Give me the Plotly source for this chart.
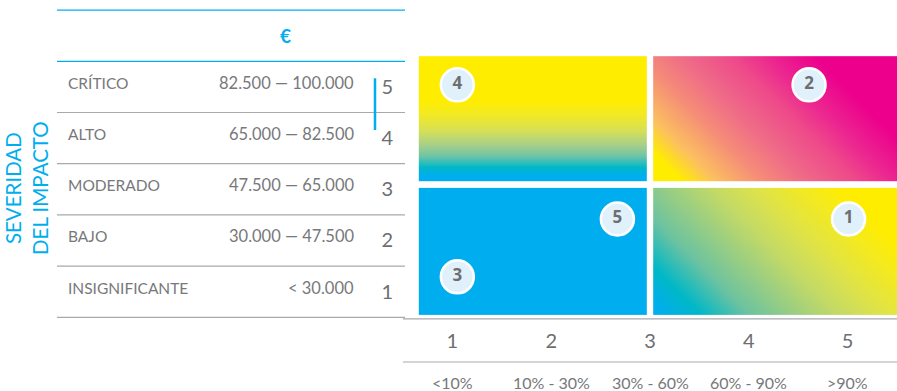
import numpy as np
import plotly.graph_objects as go

# ---------------- data ----------------
severity_levels = [5, 4, 3, 2, 1]
severity_labels = ["CRÍTICO", "ALTO", "MODERADO", "BAJO", "INSIGNIFICANTE"]
severity_ranges = ["82.500 — 100.000", "65.000 — 82.500", "47.500 — 65.000",
                   "30.000 — 47.500", "< 30.000"]
probability_levels = [1, 2, 3, 4, 5]
probability_labels = ["<10%", "10% - 30%", "30% - 60%", "60% - 90%", ">90%"]
risk_ids = ["1", "2", "3", "4", "5"]
risk_prob = [5.01, 4.61, 1.05, 1.05, 2.67]
risk_sev = [2.42, 5.04, 1.29, 5.04, 2.42]
quad_x_edges = [0.66, 3.0, 5.5]
quad_y_edges = [0.55, 3.09, 5.6]
currency_header = "€"
y_title = "SEVERIDAD<br>DEL IMPACTO"

# ---------------- style ----------------
W, H = 897, 391
BLUE = "#00aeef"
GREY_TXT = "#77787b"
GREY_NUM = "#6d6e71"
GREY_LINE = "#a7a9ac"
FONT = "Lato"
PX_X = 98.8   # pixels per x unit
PX_Y = 51.2   # pixels per y unit
GAP_X = 3.2 / PX_X
GAP_Y = 3.2 / PX_Y

cs_tl = [[0, "#00aeef"], [0.05, "#00aeef"], [0.12, "#00b8c8"], [0.2, "#6cc4a8"],
         [0.3, "#a8d088"], [0.4, "#d4df5a"], [0.55, "#f4ea20"], [0.65, "#ffed00"],
         [1, "#ffed00"]]
cs_tr = [[0, "#ffed00"], [0.08, "#ffed00"], [0.17, "#fcc060"], [0.3, "#f58c78"],
         [0.42, "#ef6a88"], [0.55, "#ee4a8a"], [0.65, "#ec2690"], [0.78, "#ec008c"],
         [1, "#ec008c"]]
cs_br = [[0, "#00aeef"], [0.05, "#00b0e6"], [0.13, "#00b8c8"], [0.26, "#6cc3a0"],
         [0.36, "#92cc88"], [0.5, "#c4da66"], [0.62, "#dfe348"], [0.75, "#f4ea20"],
         [0.85, "#ffed00"], [1, "#ffed00"]]
cs_bl = [[0, BLUE], [1, BLUE]]


def grad_heatmap(x0, x1, y0, y1, kind, colorscale):
    nx, ny = 80, 40
    xe = np.linspace(x0, x1, nx + 1)
    ye = np.linspace(y0, y1, ny + 1)
    xc = (xe[:-1] + xe[1:]) / 2
    yc = (ye[:-1] + ye[1:]) / 2
    X, Y = np.meshgrid(xc, yc)
    if kind == "vertical":
        Z = (Y - y0) / (y1 - y0)
    elif kind == "diag":
        Z = ((X - x0) * PX_X + (Y - y0) * PX_Y) / ((x1 - x0) * PX_X + (y1 - y0) * PX_Y)
    else:
        Z = np.zeros_like(X)
    return go.Heatmap(x=xe, y=ye, z=Z, colorscale=colorscale, zmin=0, zmax=1,
                      zsmooth="best", showscale=False, hoverinfo="skip")


xl0, xm, xr1 = quad_x_edges
yb0, ym, yt1 = quad_y_edges

fig = go.Figure()
fig.add_trace(grad_heatmap(xl0, xm - GAP_X, ym + GAP_Y, yt1, "vertical", cs_tl))
fig.add_trace(grad_heatmap(xm + GAP_X, xr1, ym + GAP_Y, yt1, "diag", cs_tr))
fig.add_trace(grad_heatmap(xl0, xm - GAP_X, yb0, ym - GAP_Y, "solid", cs_bl))
fig.add_trace(grad_heatmap(xm + GAP_X, xr1, yb0, ym - GAP_Y, "diag", cs_br))

fig.add_trace(go.Scatter(
    x=risk_prob, y=risk_sev, text=risk_ids, mode="markers+text",
    textposition="middle center",
    marker=dict(size=33, color="#e1f1fb", line=dict(color="white", width=2.5)),
    textfont=dict(family="Open Sans", size=17, color=GREY_NUM, weight="bold"),
    hoverinfo="skip", showlegend=False))

shapes = []
x_tab0, x_tab1 = 57 / W, 405 / W
for yv in [6.5, 5.5]:
    shapes.append(dict(type="line", xref="paper", yref="y", x0=x_tab0, x1=x_tab1,
                       y0=yv, y1=yv, line=dict(color=BLUE, width=1.2)))
for lvl in severity_levels:
    yv = lvl - 0.5
    shapes.append(dict(type="line", xref="paper", yref="y", x0=x_tab0, x1=x_tab1,
                       y0=yv, y1=yv, line=dict(color=GREY_LINE, width=1.2)))
shapes.append(dict(type="line", xref="x", yref="y", x0=0.5, x1=5.5, y0=0.47, y1=0.47,
                   line=dict(color=GREY_LINE, width=1.2)))
shapes.append(dict(type="line", xref="x", yref="paper", x0=0.5, x1=5.5,
                   y0=(H - 362) / H, y1=(H - 362) / H,
                   line=dict(color=GREY_LINE, width=1.2)))
shapes.append(dict(type="line", xref="paper", yref="y", x0=375 / W, x1=375 / W,
                   y0=4.16, y1=5.17, line=dict(color=BLUE, width=2.5)))

ann = []
for lvl, lab, rng in zip(severity_levels, severity_labels, severity_ranges):
    ann.append(dict(x=66 / W, xref="paper", y=lvl, yref="y", text=lab, showarrow=False,
                    xanchor="left", yanchor="middle", yshift=4,
                    font=dict(family=FONT, size=15.5, color=GREY_TXT)))
    ann.append(dict(x=356 / W, xref="paper", y=lvl, yref="y", text=rng, showarrow=False,
                    xanchor="right", yanchor="middle", yshift=4,
                    font=dict(family=FONT, size=16.5, color=GREY_TXT)))
ann.append(dict(x=285 / W, xref="paper", y=6, yref="y", text=currency_header,
                showarrow=False, xanchor="center", yanchor="middle",
                font=dict(family=FONT, size=19, color=BLUE, weight="bold")))
ann.append(dict(x=27 / W, xref="paper", y=(H - 188) / H, yref="paper", text=y_title,
                textangle=-90, showarrow=False, xanchor="center", yanchor="middle",
                font=dict(family=FONT, size=20.5, color=BLUE)))
for p, lab in zip(probability_levels, probability_labels):
    ann.append(dict(x=p, xref="x", y=(H - 371) / H, yref="paper", text=lab,
                    showarrow=False, xanchor="center", yanchor="top",
                    font=dict(family=FONT, size=16, color=GREY_TXT)))

fig.update_layout(
    width=W, height=H, margin=dict(l=0, r=0, t=0, b=0),
    paper_bgcolor="white", plot_bgcolor="white", showlegend=False,
    shapes=shapes, annotations=ann,
    xaxis=dict(domain=[403 / W, 1], range=[0.5, 5.5], showgrid=False, zeroline=False,
               showline=False, tickmode="array", tickvals=probability_levels,
               ticktext=[str(v) for v in probability_levels], ticks="",
               tickfont=dict(family=FONT, size=20, color=GREY_NUM),
               ticklabelstandoff=5, fixedrange=True),
    yaxis=dict(domain=[(H - 322.4) / H, (H - 5.0) / H], range=[0.4, 6.6],
               showgrid=False, zeroline=False, showline=False, tickmode="array",
               tickvals=severity_levels, ticktext=[str(v) for v in severity_levels],
               ticks="", tickfont=dict(family=FONT, size=20, color=GREY_NUM),
               ticklabelstandoff=9, fixedrange=True),
)

fig.write_html("out.html")
